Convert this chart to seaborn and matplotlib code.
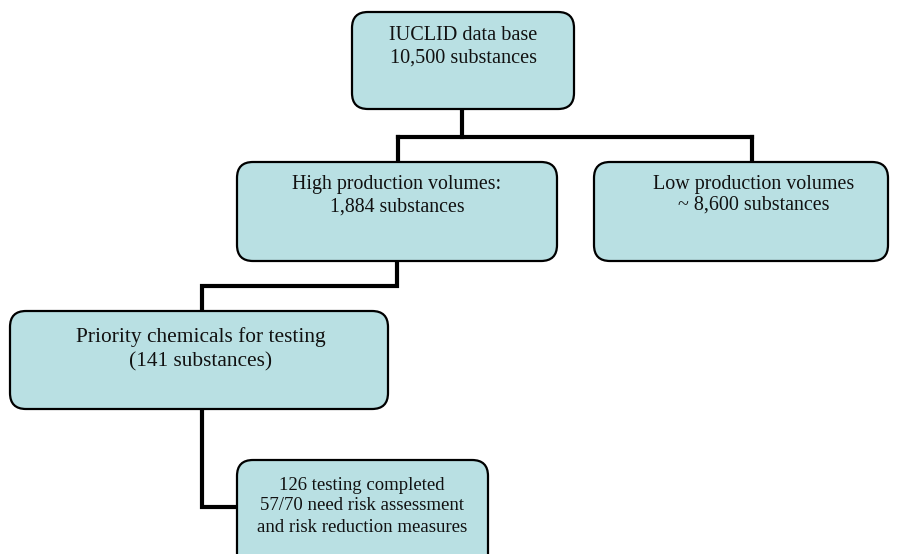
import matplotlib.pyplot as plt
import seaborn as sns
from matplotlib.patches import FancyBboxPatch

# box texts, one list of lines per box
box_lines = [
    ["IUCLID data base", "10,500 substances"],
    ["High production volumes:", "1,884 substances"],
    ["Low production volumes", "~ 8,600 substances"],
    ["Priority chemicals for testing", "(141 substances)"],
    ["126 testing completed", "57/70 need risk assessment", "and risk reduction measures"],
]

# layout in pixels (x0, y0, x1, y1), text centre x, first line y, line step, font size
boxes = [(352, 12, 574, 109), (237, 162, 557, 261), (594, 162, 888, 261),
         (10, 311, 388, 409), (237, 460, 488, 580)]
text_x = [463, 397, 754, 201, 362]
first_line = [36, 185, 184, 337, 485]
line_step = [22, 22, 21, 25, 21]
font_sizes = [14.6, 14.3, 14.4, 15.4, 13.5]

# connector polylines (pixel coordinates)
connectors = [
    ([462, 462], [109, 137]),
    ([398, 752], [137, 137]),
    ([398, 398], [137, 162]),
    ([752, 752], [137, 162]),
    ([397, 397, 202, 202], [261, 286, 286, 311]),
    ([202, 202, 237], [409, 507, 507]),
]

sns.set_style("white")
plt.rcParams['font.family'] = ['Liberation Serif', 'DejaVu Serif']

fig = plt.figure(figsize=(9.01, 5.54), dpi=100)
ax = fig.add_axes([0, 0, 1, 1])
ax.set_xlim(0, 901)
ax.set_ylim(554, 0)
ax.axis('off')

for xs, ys in connectors:
    ax.plot(xs, ys, color='black', lw=3, solid_capstyle='projecting',
            solid_joinstyle='miter', zorder=1)

for (x0, y0, x1, y1), lines, tx, fy, step, fs in zip(boxes, box_lines, text_x,
                                                     first_line, line_step,
                                                     font_sizes):
    r = 16
    patch = FancyBboxPatch((x0 + r, y0 + r), x1 - x0 - 2 * r, y1 - y0 - 2 * r,
                           boxstyle=f"round,pad={r},rounding_size={r}",
                           facecolor='#b9e0e3', edgecolor='black', lw=1.6,
                           zorder=2)
    ax.add_patch(patch)
    for i, line in enumerate(lines):
        ax.text(tx, fy + i * step, line, ha='center', va='center',
                fontsize=fs, color='#111111', zorder=3)

fig.savefig('out.png', dpi=100)
